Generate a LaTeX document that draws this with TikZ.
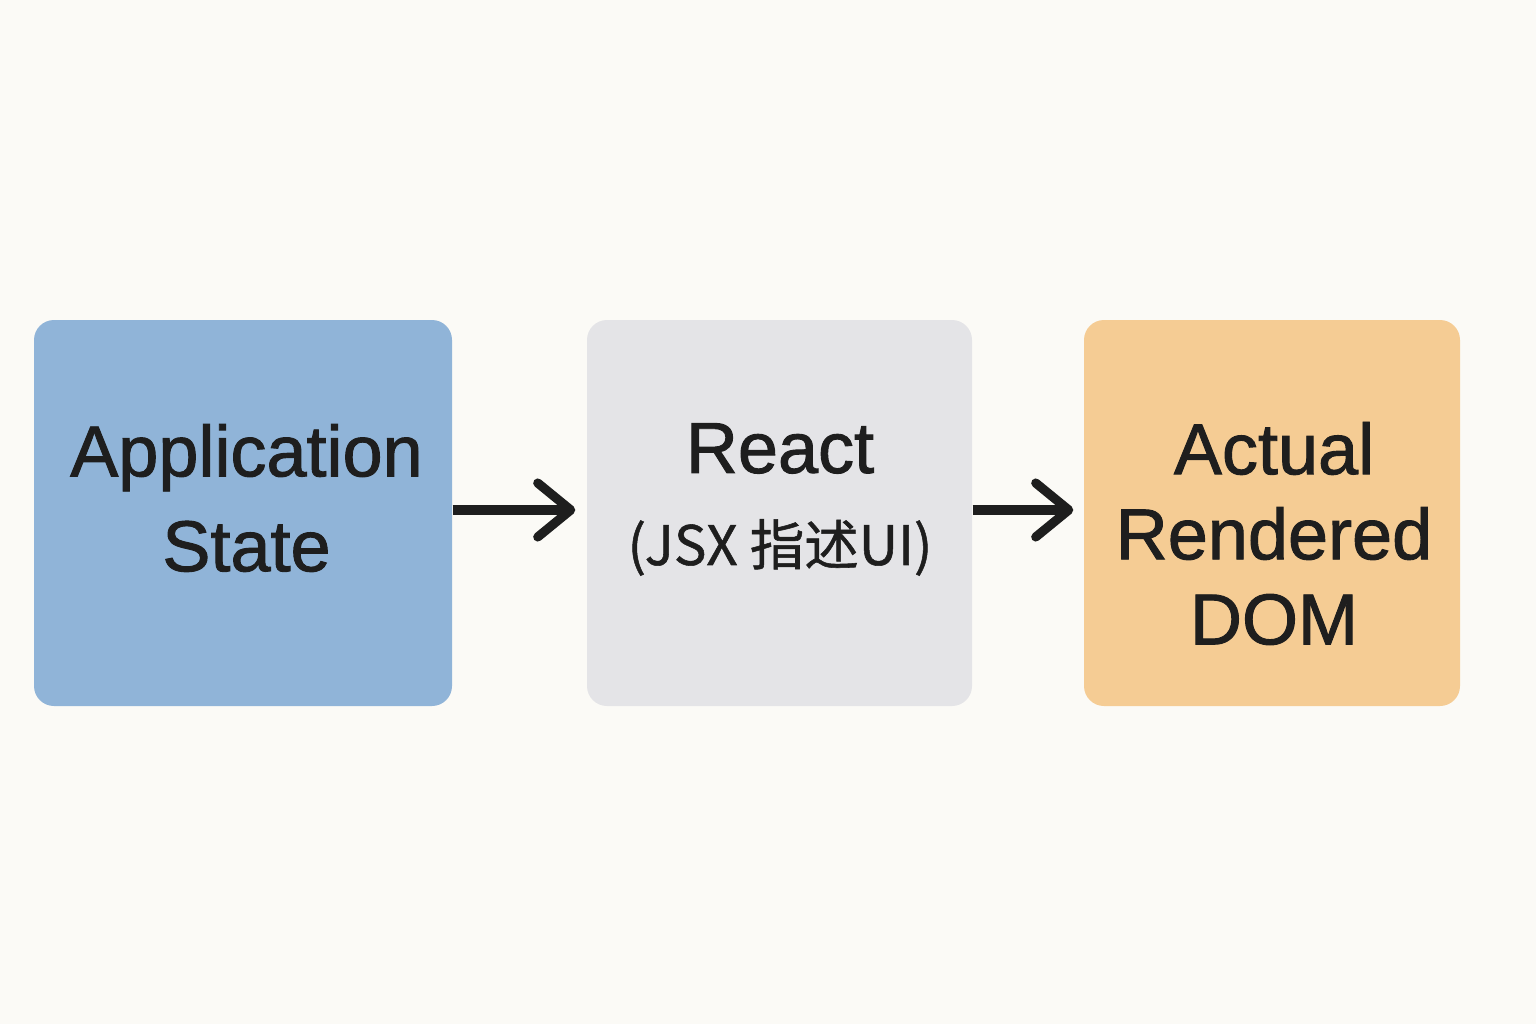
\documentclass[tikz,border=0pt]{standalone}
\usepackage{fontspec}
\setmainfont{Liberation Sans}
\newfontfamily\labelfont{Liberation Sans}[FakeBold=1.3]
\newfontfamily\cjk{Noto Sans CJK SC}[FakeBold=1]
\usetikzlibrary{arrows.meta}
\definecolor{paper}{HTML}{FBFAF6}
\definecolor{stateblue}{HTML}{90B4D8}
\definecolor{reactgray}{HTML}{E4E4E7}
\definecolor{domorange}{HTML}{F5CC94}
\definecolor{ink}{HTML}{1E1E1E}

\begin{document}
\begin{tikzpicture}
        \tikzstyle{box} = [rectangle, rounded corners = 0.2cm, minimum height = 3.86cm, inner sep = 0pt]
        \tikzstyle{label} = [align = center, text = ink, inner sep = 0pt]
        \tikzstyle{flow} = [-{Straight Barb[round, length = 0.33cm, width = 0.54cm]}, line width = 2.6pt, color = ink]
        \fill[paper] (0,0) rectangle (15.36,10.24);
        \node(State) [box, fill = stateblue, minimum width = 4.18cm] at (2.43,5.11) {};
        \node(React) [box, fill = reactgray, minimum width = 3.85cm] at (7.795,5.11) {};
        \node(DOM) [box, fill = domorange, minimum width = 3.76cm] at (12.72,5.11) {};
        \node(State label) [label, font = \labelfont\fontsize{20.5}{27}\selectfont] at (2.465,5.26) {Application\\State};
        \node(React label) [label, font = \labelfont\fontsize{20.5}{26.2}\selectfont] at (7.80,5.245) {React\\{\cjk\fontsize{15.5}{18}\selectfont (JSX 指述UI)}};
        \node(DOM label) [label, font = \labelfont\fontsize{20.5}{24.2}\selectfont] at (12.74,4.905) {Actual\\Rendered\\DOM};
        \draw [flow, shorten > = 0.11cm] ([yshift = 0.03cm]State.east) -- ([yshift = 0.03cm]React.west);
        \draw [flow, shorten > = 0.10cm] ([yshift = 0.03cm]React.east) -- ([yshift = 0.03cm]DOM.west);

    \end{tikzpicture}
\end{document}
